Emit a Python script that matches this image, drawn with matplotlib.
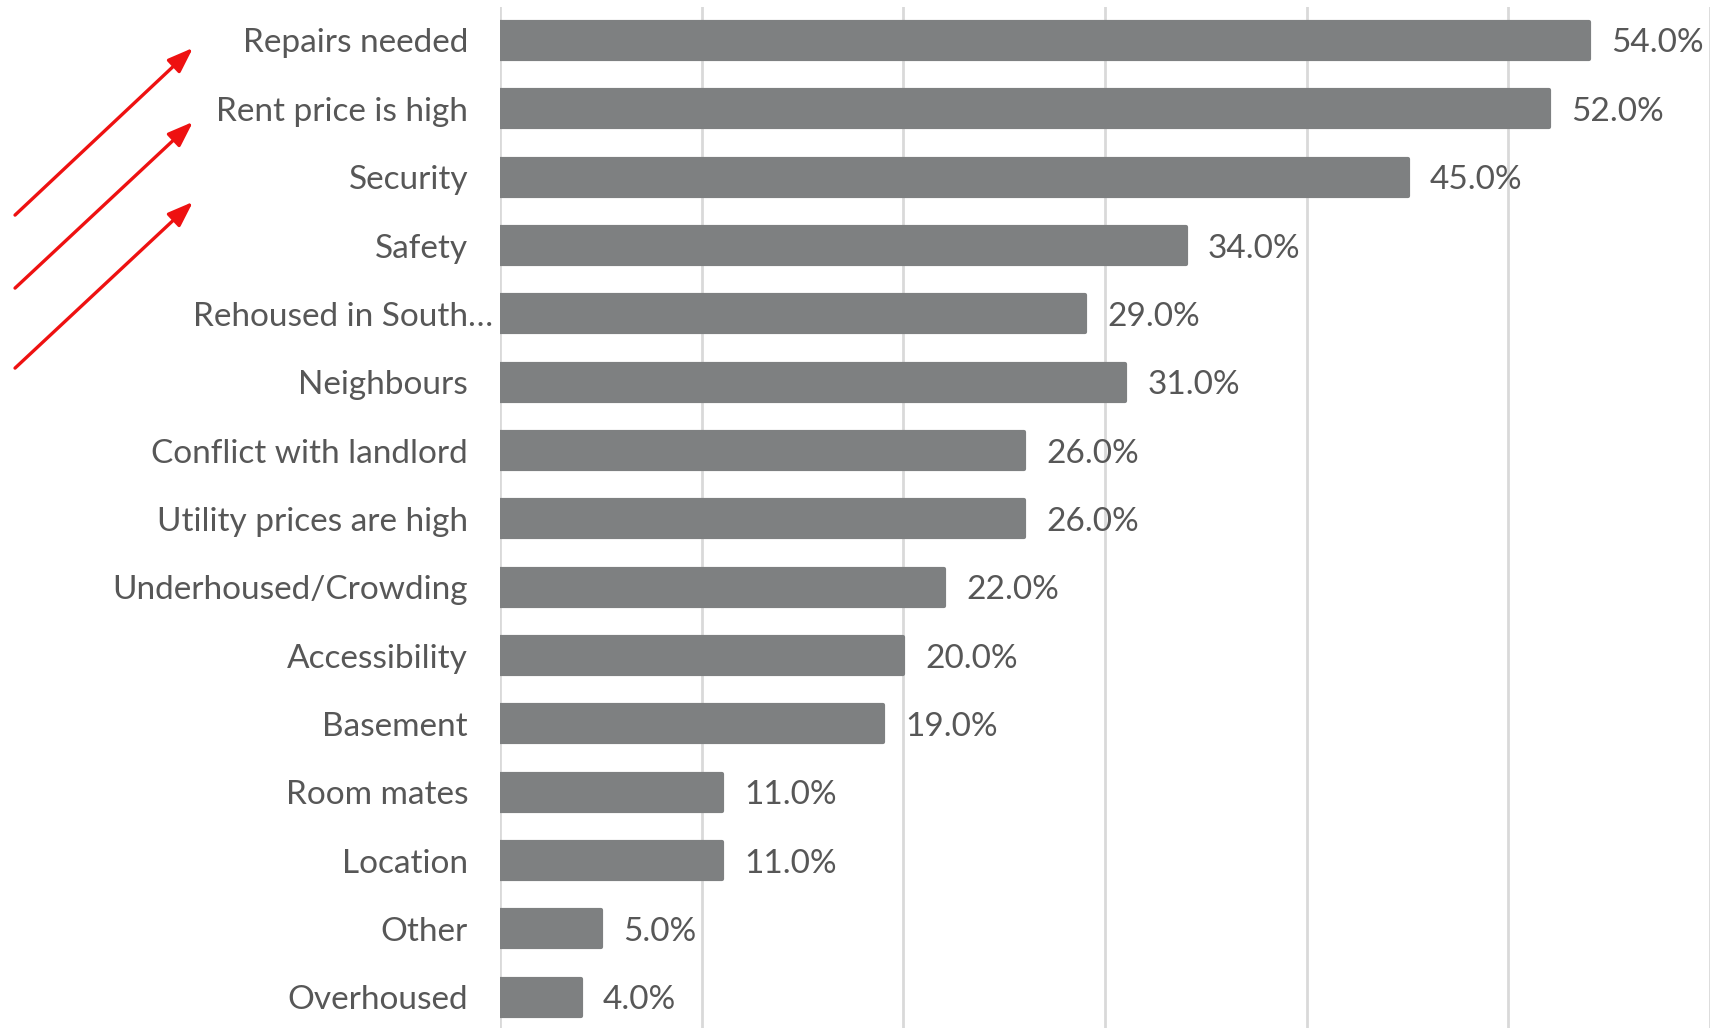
import matplotlib
matplotlib.use("Agg")
import matplotlib.pyplot as plt
import matplotlib.transforms as mtransforms
import numpy as np

# reasons, top to bottom
categories = [
    "Repairs needed", "Rent price is high", "Security", "Safety",
    "Rehoused in South\u2026", "Neighbours", "Conflict with landlord",
    "Utility prices are high", "Underhoused/Crowding", "Accessibility",
    "Basement", "Room mates", "Location", "Other", "Overhoused",
]
values = [54, 52, 45, 34, 29, 31, 26, 26, 22, 20, 19, 11, 11, 5, 4]
grid_ticks = [0, 10, 20, 30, 40, 50, 60]

BAR_COLOR = "#7e8081"
TEXT_COLOR = "#575757"
GRID_COLOR = "#d9d9d9"
FS = 24

plt.rcParams["font.family"] = ["Lato", "DejaVu Sans"]

W, H, DPI = 1715, 1028, 100
fig = plt.figure(figsize=(W / DPI, H / DPI), dpi=DPI)
fig.patch.set_facecolor("white")
ax = fig.add_axes([500 / W, 0.0, (1710 - 500) / W, 1 - 7 / H])

y = np.arange(len(categories))
bars = ax.barh(y, values, height=0.54, color=BAR_COLOR, edgecolor=BAR_COLOR,
               linewidth=3, zorder=3)
for b in bars:
    b.set_joinstyle("round")

ax.set_xlim(0, 60)
ax.set_ylim(len(categories) - 1 + 0.45, -0.49)
ax.set_xticks(grid_ticks)
ax.xaxis.grid(True, color=GRID_COLOR, linewidth=2, zorder=0)
ax.tick_params(axis="x", length=0, labelbottom=False)
ax.tick_params(axis="y", length=0, pad=23, labelsize=FS, labelcolor=TEXT_COLOR)
for s in ax.spines.values():
    s.set_visible(False)

ax.set_yticks(y)
ax.set_yticklabels(categories)
# the truncated label sits a little closer to the axis
lab = ax.get_yticklabels()[4]
lab.set_transform(lab.get_transform() + mtransforms.ScaledTranslation(25 / 100, 0, fig.dpi_scale_trans))

# value labels at the end of each bar
for yi, v in zip(y, values):
    ax.annotate(f"{v:.1f}%", xy=(v, yi), xytext=(16, 0), textcoords="offset points",
                va="center_baseline", ha="left", fontsize=FS, color=TEXT_COLOR)

# red pointer arrows on the left
arrows = [((13, 217), (195, 46)), ((13, 290), (195, 120)), ((13, 370), (195, 200))]
for (x0, y0), (x1, y1) in arrows:
    fig.add_artist(matplotlib.patches.FancyArrowPatch(
        (x0 / W, 1 - y0 / H), (x1 / W, 1 - y1 / H), transform=fig.transFigure,
        arrowstyle="-|>,head_length=0.55,head_width=0.2", mutation_scale=28,
        color="#ee1111", linewidth=2.4))

fig.savefig("out.png", dpi=DPI, facecolor="white")
